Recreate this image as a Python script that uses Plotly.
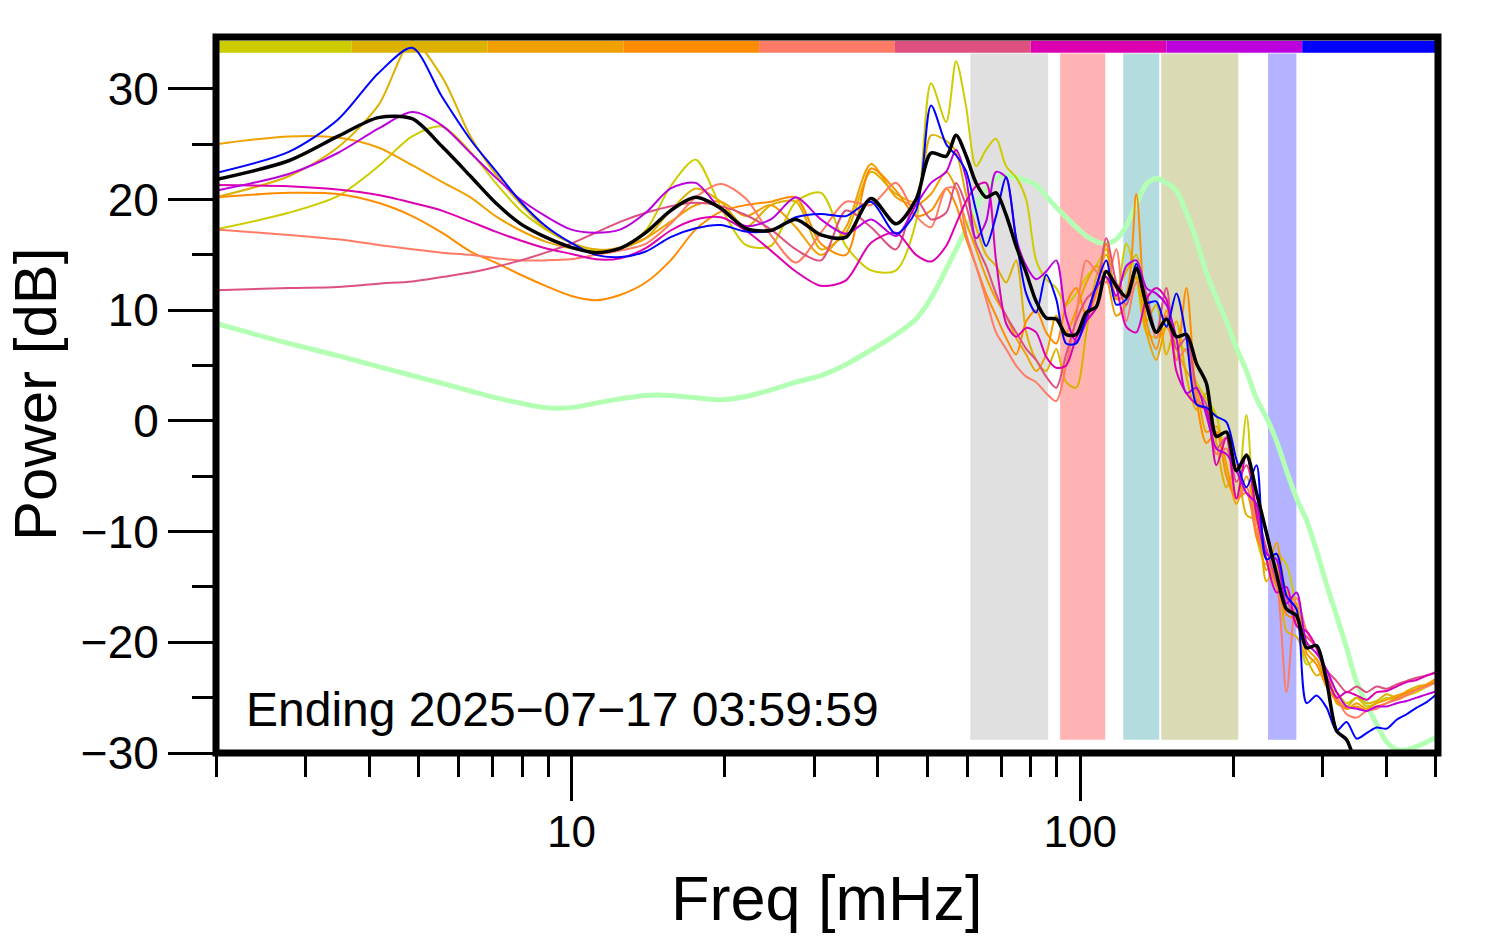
import plotly.graph_objects as go

# ---------------- data ----------------
freq_mhz = [2.0, 2.78, 3.47, 4.17, 4.86, 5.56, 6.33, 7.09, 7.94, 8.89,
            9.96, 11.15, 12.49, 13.99, 15.66, 17.54, 19.65, 22.0, 24.64, 27.6,
            30.92, 34.63, 38.79, 43.44, 47.55, 50.9, 54.5, 57.0, 59.6, 62.4,
            65.3, 68.3, 71.5, 74.8, 78.3, 81.9, 85.7, 89.7, 93.8, 98.2,
            102.8, 107.5, 112.5, 117.7, 123.2, 128.9, 134.9, 141.1, 147.7, 154.5,
            161.7, 169.2, 177.0, 185.2, 193.8, 202.8, 212.2, 222.1, 232.3, 243.1,
            254.4, 266.2, 278.6, 291.4, 305.0, 319.1, 333.9, 349.4, 365.6, 382.5,
            400.3, 418.8, 438.2, 458.6, 479.8, 504.5]

power_c1 = [17.3, 18.8, 20.3, 23.0, 25.7, 26.6, 24.3, 21.5, 19.0, 17.3,
            16.1, 15.4, 15.6, 17.2, 21.2, 23.6, 19.3, 15.9, 15.8, 19.8,
            20.6, 15.8, 13.6, 13.6, 18.0, 30.5, 27.0, 32.5, 28.5, 23.0,
            24.5, 25.5, 23.0, 22.0, 20.0, 14.5, 12.8, 12.0, 10.5, 11.5,
            13.0, 14.0, 15.5, 11.0, 16.0, 13.0, 8.0, 7.5, 8.5, 7.0,
            6.3, 3.5, 2.0, 0.5, -4.0, -7.0, 0.5, -10.5, -13.0, -12.0,
            -13.0, -17.0, -22.0, -21.5, -24.0, -24.5, -25.5, -25.0, -25.8, -25.5,
            -25.0, -25.2, -24.8, -24.5, -24.0, -23.6]

power_c2 = [20.2, 22.1, 24.7, 28.5, 34.3, 31.1, 25.7, 22.3, 19.6, 17.4,
            16.1, 15.5, 15.6, 16.5, 19.0, 21.0, 19.8, 17.5, 19.5, 19.8,
            15.5, 17.0, 22.5, 20.5, 19.8, 25.8, 25.3, 24.3, 20.5, 17.5,
            15.0, 14.0, 12.5, 14.5, 8.0, 5.5, 4.5, 6.5, 3.5, 3.0,
            8.0, 13.0, 15.0, 12.0, 13.5, 15.0, 9.0, 10.5, 6.0, 9.0,
            4.0, 1.0, 2.5, -2.0, -6.0, -4.0, -8.5, -9.0, -14.5, -13.0,
            -19.0, -19.5, -21.5, -23.0, -22.5, -25.5, -25.8, -25.0, -25.5, -25.3,
            -24.7, -25.0, -24.4, -24.0, -23.8, -23.3]

power_c3 = [25.0, 25.7, 25.6, 24.7, 23.1, 21.6, 20.2, 18.5, 17.2, 16.2,
            15.6, 15.3, 15.7, 16.5, 18.0, 19.5, 19.8, 18.5, 19.5, 17.5,
            15.0, 17.5, 23.2, 20.2, 19.5, 20.5, 22.5, 21.0, 18.0, 15.5,
            13.0, 11.0, 9.5, 7.5, 6.0, 4.5, 6.0, 9.5, 8.0, 10.0,
            12.5, 14.0, 13.0, 9.5, 10.5, 13.0, 8.0, 5.5, 8.5, 6.5,
            4.5, 3.0, -1.0, -0.5, -4.0, -7.5, -5.0, -9.0, -13.5, -11.0,
            -15.5, -16.5, -20.5, -21.5, -23.5, -25.0, -26.0, -25.5, -26.0, -25.5,
            -25.2, -24.8, -24.5, -24.2, -23.8, -23.2]

power_c4 = [20.2, 20.6, 20.5, 19.7, 18.5, 17.0, 15.3, 14.3, 13.2, 12.2,
            11.3, 10.9, 11.4, 12.5, 14.5, 17.3, 18.9, 19.5, 19.8, 20.2,
            16.0, 15.0, 22.8, 20.8, 18.5, 19.0, 21.0, 19.5, 16.5, 14.0,
            11.5, 9.5, 7.5, 6.0, 9.0, 10.0, 8.0, 7.0, 10.5, 12.0,
            9.5, 11.5, 16.0, 11.0, 11.5, 20.5, 9.0, 6.5, 10.0, 5.5,
            12.0, 2.0, -2.0, -1.0, -5.0, -7.0, -6.5, -10.5, -12.5, -15.0,
            -17.5, -18.0, -21.0, -22.0, -24.0, -25.3, -26.0, -25.8, -26.2, -25.8,
            -25.5, -25.0, -24.6, -24.3, -23.9, -23.4]

power_c5 = [17.3, 16.8, 16.4, 15.9, 15.5, 15.2, 15.0, 14.7, 14.5, 14.5,
            14.6, 15.0, 15.4, 16.0, 17.8, 20.2, 21.4, 20.1, 16.8, 14.3,
            17.0, 19.8, 19.5, 21.5, 18.5, 17.5, 21.0, 21.0, 17.0, 14.0,
            11.0, 8.0, 6.5, 5.0, 4.0, 3.5, 2.5, 1.8, 5.0, 9.5,
            14.5, 13.5, 12.5, 15.5, 9.0, 12.5, 11.0, 7.5, 9.5, 5.5,
            6.5, 2.0, 1.0, -3.0, -2.5, -7.0, -6.0, -10.0, -12.5, -14.5,
            -24.5, -16.0, -19.0, -20.5, -23.5, -25.0, -26.5, -26.8, -26.2, -26.0,
            -25.5, -25.2, -24.8, -24.3, -24.0, -23.5]

power_c6 = [11.8, 12.0, 12.1, 12.4, 12.6, 13.0, 13.4, 13.9, 14.5, 15.2,
            16.0, 17.0, 18.0, 18.8, 19.4, 19.7, 19.4, 18.6, 17.3, 15.5,
            14.5, 19.0, 17.5, 15.5, 20.0, 18.2, 18.8, 21.5, 19.5, 16.0,
            14.0, 11.5, 9.5, 8.0, 6.5, 5.5, 4.0, 3.0, 6.0, 9.0,
            11.0, 12.0, 16.5, 12.5, 10.5, 13.5, 11.5, 8.0, 12.0, 6.5,
            7.5, 3.0, 1.5, -2.5, -1.5, -5.5, -4.0, -8.0, -11.5, -14.5,
            -16.0, -18.5, -19.5, -20.5, -22.5, -23.5, -24.5, -24.0, -24.5, -24.0,
            -24.2, -23.8, -23.5, -23.2, -23.0, -22.6]

power_c7 = [21.3, 21.2, 20.9, 20.4, 19.7, 19.0, 18.0, 17.1, 16.3, 15.6,
            15.1, 14.6, 14.7, 15.6, 17.2, 18.2, 18.4, 17.2, 15.4, 13.5,
            12.2, 12.7, 16.1, 17.0, 15.0, 14.4, 15.8, 17.8, 19.8, 21.2,
            21.5, 14.5, 8.8, 7.6, 8.4, 8.0, 5.8, 4.8, 5.0, 7.5,
            9.0, 10.2, 13.5, 12.0, 8.5, 8.0, 11.0, 12.0, 11.0, 4.5,
            2.5, 1.5, 1.0, -4.0, -1.5, -7.0, -3.0, -8.5, -12.5, -15.5,
            -15.0, -18.5, -19.0, -20.5, -23.0, -25.0, -24.5, -24.8, -25.2, -24.5,
            -24.4, -24.0, -23.6, -23.4, -23.0, -22.7]

power_c8 = [20.8, 22.3, 24.2, 26.4, 27.9, 26.7, 24.2, 22.0, 20.0, 18.5,
            17.3, 17.0, 17.3, 18.8, 21.0, 21.5, 19.1, 17.6, 18.2, 20.2,
            18.2, 16.9, 18.2, 16.7, 19.5, 21.5, 22.5, 24.5, 22.0, 16.5,
            18.0, 22.5, 22.0, 16.5, 14.0, 12.8, 13.5, 14.5, 9.4, 7.2,
            9.0, 12.0, 13.0, 11.3, 14.0, 14.5, 12.0, 11.5, 10.5, 7.5,
            2.5, 3.0, 0.5, -2.5, -3.0, -4.5, -6.5, -7.5, -12.0, -12.5,
            -16.5, -15.5, -20.0, -21.0, -22.5, -24.5, -25.8, -26.0, -26.2, -25.8,
            -25.8, -25.5, -25.3, -25.0, -24.7, -24.4]

power_c9 = [22.4, 24.3, 27.2, 31.4, 33.7, 29.3, 25.4, 22.6, 19.8, 17.6,
            16.1, 15.0, 14.8, 15.3, 16.6, 17.4, 17.7, 17.1, 17.2, 18.4,
            18.7, 18.5, 19.8, 16.9, 19.0, 28.5, 25.0, 24.0, 22.6, 19.0,
            15.8, 18.5, 22.0, 16.5, 11.5, 9.8, 13.2, 11.0, 7.0, 7.0,
            9.5, 12.2, 14.5, 10.5, 11.0, 14.2, 10.7, 10.8, 8.5, 11.5,
            7.5, 1.5, 1.2, 0.4, -0.1, -3.5, -6.0, -4.0, -12.5, -12.0,
            -15.8, -17.0, -25.5, -24.8, -25.9, -28.0, -27.2, -28.7, -28.2, -27.7,
            -27.8, -27.0, -26.5, -25.9, -25.4, -24.6]

mean_power = [21.8, 23.5, 25.7, 27.4, 27.3, 24.8, 22.1, 19.7, 17.8, 16.6,
              15.7, 15.2, 15.6, 17.0, 19.0, 20.2, 19.2, 17.4, 17.2, 18.2,
              16.8, 16.6, 20.1, 17.8, 20.0, 24.2, 23.9, 25.8, 24.0, 21.5,
              20.2, 20.6, 18.6, 15.8, 13.4, 10.8, 9.3, 9.2, 7.8, 7.8,
              9.8, 10.3, 13.5, 12.2, 11.2, 13.8, 10.5, 8.0, 9.2, 7.6,
              7.8, 5.2, 3.4, -1.4, -1.0, -4.5, -3.1, -6.5, -10.1, -13.8,
              -17.0, -17.6, -20.5, -20.3, -23.5, -28.0, -28.8, -31.0, -32.0, -32.5,
              -33.0, -33.0, -33.0, -33.0, -33.0, -33.0]

ref_power = [8.8, 7.0, 5.9, 4.9, 4.1, 3.4, 2.7, 2.1, 1.6, 1.2,
             1.2, 1.6, 2.0, 2.3, 2.3, 2.1, 1.9, 2.2, 2.8, 3.5,
             4.1, 5.1, 6.4, 7.8, 9.2, 11.1, 13.7, 15.5, 17.3, 19.3,
             20.9, 21.9, 22.2, 22.0, 21.7, 21.3, 20.3, 19.3, 18.4, 17.5,
             16.7, 16.2, 16.0, 16.4, 17.6, 19.6, 21.4, 21.9, 21.5, 20.8,
             18.8, 16.3, 13.4, 11.1, 9.0, 6.6, 4.5, 2.0, 0.3, -1.8,
             -4.5, -7.0, -9.0, -11.7, -14.8, -17.6, -20.5, -23.6, -25.6, -27.4,
             -29.0, -29.7, -29.7, -29.4, -29.0, -28.5]

series_values = [power_c1, power_c2, power_c3, power_c4, power_c5,
                 power_c6, power_c7, power_c8, power_c9]
series_colors = ["#cccc00", "#ddb100", "#f0a000", "#ff8c00", "#ff7b66",
                 "#dd5080", "#dd00b0", "#bb00dd", "#0000ff"]

band_lo = [60.8, 91.3, 121.5, 144.3, 234.0]
band_hi = [86.5, 112.0, 143.0, 204.5, 266.0]
band_colors = ["#e0e0e0", "#ffb3b3", "#b4dcdf", "#dadab4", "#b3b3ff"]

y_major = [-30, -20, -10, 0, 10, 20, 30]
y_minor = [-25, -15, -5, 5, 15, 25]
x_major = [10, 100]
x_major_text = ["10", "100"]
x_minor = [2, 3, 4, 5, 6, 7, 8, 9, 20, 30, 40, 50, 60, 70, 80, 90,
           200, 300, 400, 500]

title_text = "Ending 2025\u221207\u221217 03:59:59"

# ---------------- figure ----------------
FONT = "Liberation Sans, Arial, Helvetica, sans-serif"
fig = go.Figure()

fig.add_trace(go.Scatter(x=freq_mhz, y=ref_power, mode="lines",
                         line=dict(color="#b3ffb3", width=5, shape="spline", smoothing=0.8),
                         hoverinfo="skip", showlegend=False))
for vals, col in zip(series_values, series_colors):
    fig.add_trace(go.Scatter(x=freq_mhz, y=vals, mode="lines",
                             line=dict(color=col, width=2, shape="spline", smoothing=0.8),
                             hoverinfo="skip", showlegend=False))
fig.add_trace(go.Scatter(x=freq_mhz, y=mean_power, mode="lines",
                         line=dict(color="black", width=3.5, shape="spline", smoothing=0.8),
                         hoverinfo="skip", showlegend=False))

shapes = []
for lo, hi, col in zip(band_lo, band_hi, band_colors):
    shapes.append(dict(type="rect", xref="x", yref="y", x0=lo, x1=hi, y0=-28.8, y1=33.2,
                       fillcolor=col, line=dict(width=0), layer="below"))
nseg = len(series_colors)
for i, col in enumerate(series_colors):
    shapes.append(dict(type="rect", xref="paper", yref="y", x0=i / nseg, x1=(i + 1) / nseg,
                       y0=33.25, y1=34.35, fillcolor=col, line=dict(width=0), layer="below"))
shapes.append(dict(type="rect", xref="paper", yref="paper", x0=0, x1=1, y0=0, y1=1,
                   line=dict(color="black", width=7), fillcolor="rgba(0,0,0,0)", layer="above"))

annotations = [
    dict(text=title_text, xref="paper", yref="y", x=0.0254, y=-26.1, xshift=-3,
         xanchor="left", yanchor="middle", showarrow=False,
         font=dict(family=FONT, size=48, color="black")),
    dict(text="Power [dB]", xref="paper", yref="paper", x=0, y=0.5, xshift=-181,
         xanchor="center", yanchor="middle", textangle=-90, showarrow=False,
         font=dict(family=FONT, size=60, color="black")),
    dict(text="Freq [mHz]", xref="paper", yref="paper", x=0.5, y=0, yshift=-145,
         xanchor="center", yanchor="middle", showarrow=False,
         font=dict(family=FONT, size=63, color="black")),
]

fig.update_layout(
    width=1494, height=952,
    margin=dict(l=216, r=56, t=37, b=199),
    paper_bgcolor="white", plot_bgcolor="white",
    shapes=shapes, annotations=annotations,
    showlegend=False,
    font=dict(family=FONT, color="black"),
    xaxis=dict(type="log", range=[0.30103, 2.7033], showgrid=False, zeroline=False,
               showline=False, ticks="outside", tickvals=x_major, ticktext=x_major_text,
               ticklen=47, tickwidth=3, tickcolor="black", ticklabelstandoff=-7,
               tickfont=dict(family=FONT, size=44, color="black"),
               minor=dict(tickvals=x_minor, ticks="outside", ticklen=23, tickwidth=3,
                          tickcolor="black", showgrid=False)),
    yaxis=dict(range=[-30, 34.68], showgrid=False, zeroline=False, showline=False,
               ticks="outside", tickvals=y_major, ticklen=47, tickwidth=3, tickcolor="black",
               tickfont=dict(family=FONT, size=46, color="black"),
               minor=dict(tickvals=y_minor, ticks="outside", ticklen=23, tickwidth=3,
                          tickcolor="black", showgrid=False)),
)

fig.write_html("out.html", config={"displayModeBar": False},
               post_script="document.body.style.margin='0px';")
